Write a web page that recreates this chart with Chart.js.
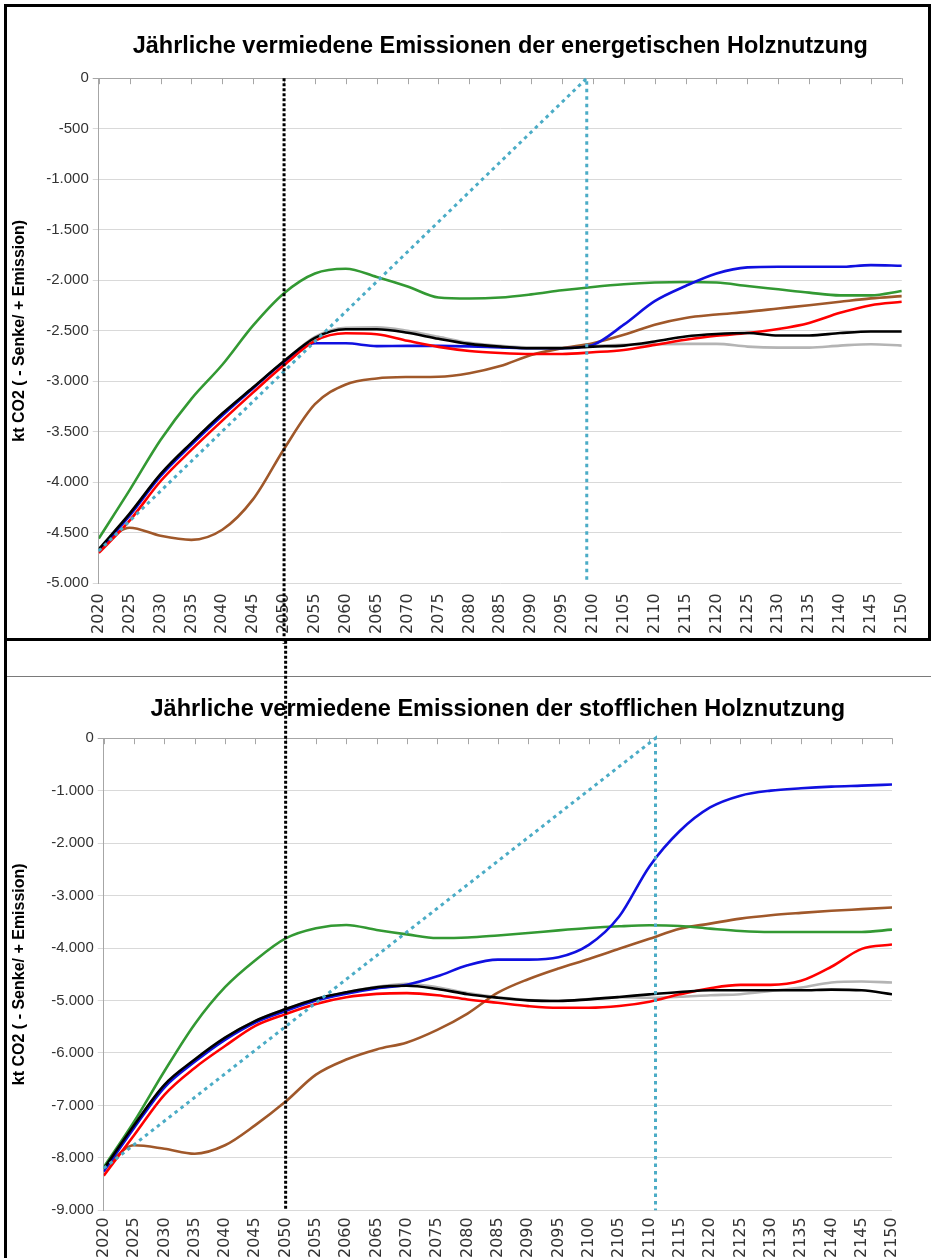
<!DOCTYPE html>
<html lang="de">
<head>
<meta charset="utf-8">
<title>Jährliche vermiedene Emissionen der Holznutzung</title>
<script src="https://cdn.jsdelivr.net/npm/chart.js@4.4.1/dist/chart.umd.min.js"></script>
<style>
    html, body { margin: 0; padding: 0; background: #fff; overflow: hidden; }
    #page { position: relative; width: 931px; height: 1258px; overflow: hidden; }
    .frame-top { position: absolute; left: 4px; top: 4px; width: 921px; height: 631px; border: 3px solid #000; }
    .frame-left { position: absolute; left: 4px; top: 640px; width: 3px; height: 618px; background: #000; }
    .frame-sep { position: absolute; left: 7px; top: 676px; width: 924px; height: 1px; background: #7a7a7a; }
    .chart-box { position: absolute; left: 0; width: 931px; }
    #box-top { top: 0; height: 644px; }
    #box-bottom { top: 640px; height: 625px; }
</style>
</head>
<body>
<div id="page">
    <div class="frame-top"></div>
    <div class="frame-left"></div>
    <div class="frame-sep"></div>
    <div class="chart-box" id="box-top"><canvas id="energy-chart"></canvas></div>
    <div class="chart-box" id="box-bottom"><canvas id="material-chart"></canvas></div>
</div>
<script>
// years on the x axis (5-year steps)
const years = [2020, 2025, 2030, 2035, 2040, 2045, 2050, 2055, 2060, 2065, 2070, 2075, 2080, 2085,
    2090, 2095, 2100, 2105, 2110, 2115, 2120, 2125, 2130, 2135, 2140, 2145, 2150];

// energetische Holznutzung (kt CO2)
const energyBlack = [-4663, -4310, -3920, -3610, -3320, -3060, -2800, -2570, -2485, -2485, -2520, -2580, -2630, -2657,
    -2673, -2673, -2657, -2647, -2607, -2557, -2533, -2523, -2547, -2547, -2523, -2507, -2507];
const energyGray = [-4670, -4320, -3925, -3615, -3325, -3065, -2805, -2560, -2470, -2465, -2500, -2560, -2620, -2650,
    -2665, -2665, -2650, -2640, -2633, -2630, -2630, -2657, -2667, -2667, -2647, -2633, -2647];
const energyRed = [-4700, -4380, -3990, -3680, -3390, -3110, -2840, -2600, -2525, -2535, -2600, -2660, -2700, -2720,
    -2730, -2730, -2713, -2690, -2640, -2590, -2550, -2523, -2483, -2423, -2323, -2247, -2213];
const energyBlue = [-4680, -4330, -3940, -3630, -3340, -3070, -2810, -2624, -2624, -2652, -2650, -2650, -2655, -2665,
    -2673, -2673, -2640, -2440, -2207, -2057, -1933, -1873, -1867, -1867, -1867, -1850, -1857];
const energyGreen = [-4557, -4078, -3582, -3174, -2837, -2447, -2128, -1933, -1886, -1968, -2062, -2171, -2181, -2171,
    -2140, -2100, -2067, -2040, -2023, -2017, -2023, -2057, -2090, -2123, -2150, -2150, -2107];
const energyBrown = [-4663, -4450, -4530, -4570, -4470, -4167, -3670, -3227, -3032, -2972, -2958, -2955, -2920, -2850,
    -2740, -2673, -2623, -2540, -2440, -2373, -2340, -2313, -2280, -2247, -2213, -2180, -2157];

// stoffliche Holznutzung (kt CO2)
const materialBlack = [-8210, -7377, -6607, -6126, -5709, -5388, -5164, -4971, -4843, -4747, -4720, -4780, -4880, -4947,
    -4998, -5011, -4979, -4934, -4883, -4838, -4806, -4806, -4806, -4806, -4793, -4806, -4883];
const materialGray = [-8220, -7390, -6620, -6135, -5715, -5392, -5166, -4975, -4845, -4740, -4680, -4750, -4860, -4940,
    -4990, -5005, -4975, -4940, -4947, -4930, -4900, -4880, -4819, -4755, -4658, -4639, -4658];
const materialRed = [-8339, -7569, -6799, -6286, -5869, -5484, -5260, -5067, -4939, -4875, -4860, -4900, -4980, -5043,
    -5107, -5140, -5140, -5107, -5024, -4883, -4767, -4703, -4703, -4626, -4357, -4016, -3933];
const materialBlue = [-8260, -7430, -6660, -6170, -5750, -5420, -5200, -5000, -4870, -4770, -4700, -4540, -4330, -4222,
    -4222, -4177, -3940, -3400, -2444, -1770, -1321, -1096, -1000, -955, -923, -904, -884];
const materialGreen = [-8178, -7312, -6350, -5452, -4747, -4233, -3817, -3624, -3560, -3656, -3740, -3810, -3800, -3760,
    -3715, -3663, -3618, -3586, -3567, -3580, -3631, -3676, -3695, -3695, -3695, -3695, -3650];
const materialBrown = [-8210, -7761, -7826, -7922, -7761, -7377, -6928, -6414, -6126, -5933, -5800, -5560, -5250, -4851,
    -4594, -4389, -4209, -4016, -3824, -3631, -3535, -3439, -3375, -3330, -3291, -3259, -3227];

// dotted guide lines
const markerX = [2050, 2050];
const energyMarkerY = [0, -7000];
const materialMarkerY = [3000, -9000];
const energyGuideX = [2020, 2099, 2099];
const energyGuideY = [-4680, 0, -5000];
const materialGuideX = [2020, 2111, 2111];
const materialGuideY = [-8200, 0, -9000];

const yAxisTitle = 'kt CO2 ( - Senke/ + Emission)';
const tickColor = '#333333';

const formatDe = (value) => {
    const digits = Math.abs(value).toString().replace(/\B(?=(\d{3})+(?!\d))/g, '.');
    return value < 0 ? '-' + digits : digits;
};

const pairUp = (xs, ys) => xs.map((x, i) => ({ x, y: ys[i] }));

const lineSet = (label, values, color) => ({
    label,
    data: pairUp(years, values),
    borderColor: color,
    backgroundColor: color,
    borderWidth: 2.6,
    pointRadius: 0,
    cubicInterpolationMode: 'monotone',
    fill: false,
});

const dottedSet = (label, xs, ys, color, dash) => ({
    label,
    data: pairUp(xs, ys),
    borderColor: color,
    borderWidth: 3,
    borderDash: dash,
    pointRadius: 0,
    tension: 0,
    clip: false,
    fill: false,
});

// small tick marks hanging from the zero line, like the Excel category axis
const topAxisTicks = {
    id: 'topAxisTicks',
    beforeDatasetsDraw(chart) {
        const { ctx, scales: { x, y } } = chart;
        const yZero = y.getPixelForValue(0);
        ctx.save();
        ctx.strokeStyle = '#a6a6a6';
        ctx.lineWidth = 1;
        x.ticks.forEach((tick) => {
            const px = Math.round(x.getPixelForValue(tick.value)) + 0.5;
            ctx.beginPath();
            ctx.moveTo(px, yZero);
            ctx.lineTo(px, yZero + 6);
            ctx.stroke();
        });
        ctx.restore();
    },
};

const buildChart = (canvas, setup) => new Chart(canvas, {
    type: 'line',
    data: { datasets: setup.datasets },
    plugins: [topAxisTicks],
    options: {
        responsive: true,
        maintainAspectRatio: false,
        animation: false,
        layout: { padding: setup.padding },
        plugins: {
            legend: { display: false },
            tooltip: { enabled: false },
            title: {
                display: true,
                text: setup.title,
                fullSize: false,
                color: '#000',
                font: { family: 'Liberation Sans, Arial, sans-serif', size: 23.5, weight: 'bold' },
                padding: setup.titlePadding,
            },
        },
        scales: {
            x: {
                type: 'linear',
                min: 2020,
                max: 2150,
                grid: { display: false, drawTicks: false },
                border: { display: false },
                ticks: {
                    stepSize: 5,
                    maxTicksLimit: 40,
                    autoSkip: false,
                    minRotation: 90,
                    maxRotation: 90,
                    padding: setup.xTickPadding,
                    color: tickColor,
                    font: { family: 'DejaVu Sans, sans-serif', size: 16 },
                    callback: (value) => String(value),
                },
            },
            y: {
                min: setup.yMin,
                max: 0,
                grid: {
                    color: (ctx) => (ctx.tick && ctx.tick.value === 0 ? '#a6a6a6' : '#d9d9d9'),
                    tickLength: 6,
                },
                border: { color: '#a6a6a6' },
                ticks: {
                    stepSize: setup.yStep,
                    padding: 4,
                    color: tickColor,
                    font: { family: 'Liberation Sans, Arial, sans-serif', size: 15 },
                    callback: (value) => formatDe(value),
                },
                title: {
                    display: true,
                    text: yAxisTitle,
                    color: '#000',
                    font: { family: 'Liberation Sans, Arial, sans-serif', size: 16, weight: 'bold' },
                    padding: setup.yTitlePadding,
                },
            },
        },
    },
});

buildChart(document.getElementById('energy-chart'), {
    title: 'Jährliche vermiedene Emissionen der energetischen Holznutzung',
    yMin: -5000,
    yStep: 500,
    padding: { left: 5, right: 19, top: 20, bottom: 0 },
    titlePadding: { top: 12, bottom: 18 },
    yTitlePadding: { top: 5, bottom: 13 },
    xTickPadding: 10,
    datasets: [
        dottedSet('2050', markerX, energyMarkerY, '#000000', [3, 2]),
        dottedSet('Pfad', energyGuideX, energyGuideY, '#4bacc6', [3.5, 4]),
        lineSet('Schwarz', energyBlack, '#000000'),
        lineSet('Rot', energyRed, '#ff0000'),
        lineSet('Blau', energyBlue, '#1010e0'),
        lineSet('Grün', energyGreen, '#339933'),
        lineSet('Braun', energyBrown, '#a0582a'),
        lineSet('Grau', energyGray, '#b4b4b4'),
    ],
});

buildChart(document.getElementById('material-chart'), {
    title: 'Jährliche vermiedene Emissionen der stofflichen Holznutzung',
    yMin: -9000,
    yStep: 1000,
    padding: { left: 5, right: 39, top: 20, bottom: 0 },
    titlePadding: { top: 35, bottom: 15 },
    yTitlePadding: { top: 5, bottom: 18 },
    xTickPadding: 7,
    datasets: [
        dottedSet('2050', markerX, materialMarkerY, '#000000', [3, 2]),
        dottedSet('Pfad', materialGuideX, materialGuideY, '#4bacc6', [3.5, 4]),
        lineSet('Schwarz', materialBlack, '#000000'),
        lineSet('Rot', materialRed, '#ff0000'),
        lineSet('Blau', materialBlue, '#1010e0'),
        lineSet('Grün', materialGreen, '#339933'),
        lineSet('Braun', materialBrown, '#a0582a'),
        lineSet('Grau', materialGray, '#b4b4b4'),
    ],
});
</script>
</body>
</html>
